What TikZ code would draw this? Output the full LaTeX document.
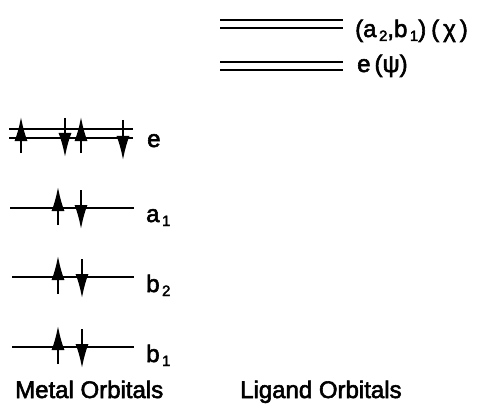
\documentclass[tikz,border=0pt]{standalone}
\usepackage{fontspec}
\setmainfont{Liberation Sans}[BoldFont=Liberation Sans,BoldFeatures={FakeBold=2.4}]
\usetikzlibrary{arrows.meta}
\newcommand{\sbs}[1]{\kern2.5pt\raisebox{-4pt}{\fontsize{15}{15}\selectfont #1}}
\tikzset{
  level/.style={line width=2pt},
  thinlevel/.style={line width=1.5pt},
  spin/.style={line width=1.8pt,-{Latex[length=24pt,width=13pt]}},
  lbl/.style={anchor=base west,inner sep=0pt,font=\fontsize{24}{24}\selectfont\bfseries}
}
\begin{document}
\begin{tikzpicture}[x=1pt,y=-1pt]
\useasboundingbox (0,0) rectangle (486,406);
% ligand levels
\draw[thinlevel] (220,20) -- (343,20);
\draw[thinlevel] (220,28) -- (343,28);
\draw[thinlevel] (220,62) -- (343,62);
\draw[thinlevel] (220,70) -- (343,70);
\node[lbl] (chi) at (355,37) {(a\sbs{2},b\sbs{1})\kern5pt(\kern4pt χ\kern4pt)};
\node[lbl] (psi) at (357,72) {e\kern4pt(ψ)};
% metal e level
\draw[level] (9,129) -- (133,129);
\draw[level] (9,138) -- (133,138);
\draw[spin] (21,153) -- (21,117);
\draw[spin] (65,118) -- (65,157);
\draw[spin] (81,153) -- (81,117);
\draw[spin] (123,120) -- (123,160);
\node[lbl] (e) at (147,147) {e};
% a1
\draw[level] (10,208) -- (134,208);
\draw[spin] (58,225) -- (58,187);
\draw[spin] (81,190) -- (81,229);
\node[lbl] (a1) at (146,222) {a\sbs{1}};
% b2
\draw[level] (12,277) -- (134,277);
\draw[spin] (58,294) -- (58,256);
\draw[spin] (82,259) -- (82,298);
\node[lbl] (b2) at (146,292) {b\sbs{2}};
% b1
\draw[level] (12,347) -- (134,347);
\draw[spin] (58,364) -- (58,326);
\draw[spin] (82,329) -- (82,368);
\node[lbl] (b1) at (146,362) {b\sbs{1}};
% captions
\node[lbl] (metal) at (15,398) {Metal Orbitals};
\node[lbl] (ligand) at (240,398) {Ligand Orbitals};
\end{tikzpicture}
\end{document}
